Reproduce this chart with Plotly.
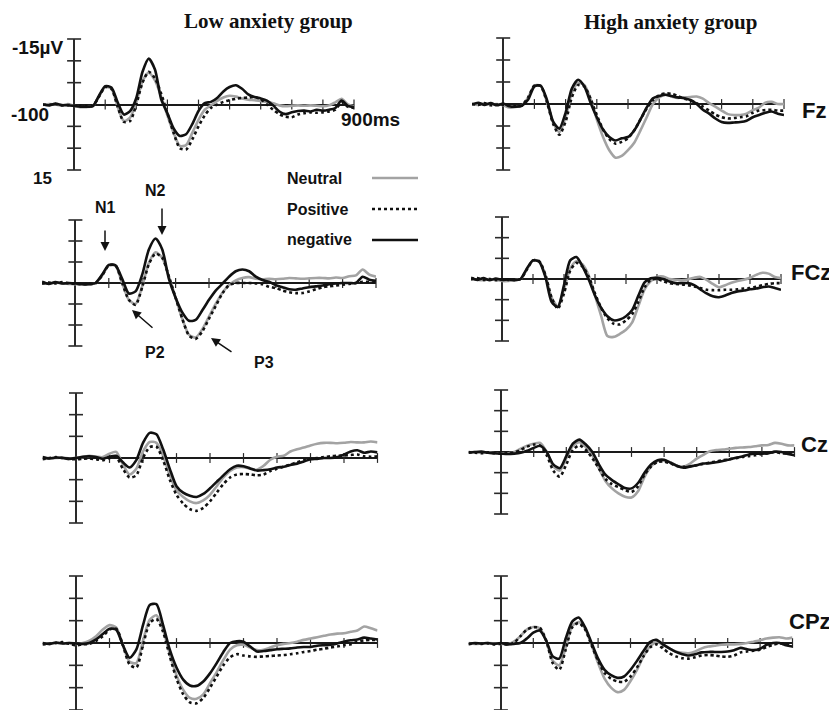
import plotly.graph_objects as go

# reference canvas and page offset (browser body margin)
REF_W, REF_H = 837, 710
OX, OY = 8, 8
W, H = REF_W - OX, REF_H - OY

# time axis (ms)
time_ms = list(range(-100, 901, 20))

# ---- Low anxiety group ----
low_fz_neutral = [0.1, -0.1, 0.0, 0.2, -0.1, 0.3, 0.6, 0.6, 0.4, -1.8, -4.0, -3.6, 0.5, 3.8, 3.0, -0.5, -5.3, -7.3, -5.5, -1.8, 2.5, 6.5, 9.5, 9.3, 6.5, 3.5, 1.2, 0.2, -0.8, -1.6, -2.0, -1.8, -1.4, -1.1, -1.0, -0.8, -0.6, -0.3, 0.2, 0.4, 0.3, 0.2, 0.3, 0.2, 0.3, 0.4, 0.2, -0.5, -1.3, 0.0, 0.4]
low_fz_positive = [0.0, 0.1, -0.1, 0.2, 0.1, 0.3, 0.3, 0.3, 0.3, -1.8, -4.0, -3.6, 0.5, 4.0, 3.8, 0.0, -5.0, -7.5, -6.0, -2.5, 2.0, 6.5, 10.0, 10.3, 8.0, 5.0, 2.5, 0.8, 0.0, -0.6, -1.0, -1.3, -1.5, -1.6, -1.7, -1.2, 0.0, 1.2, 2.2, 2.8, 2.9, 2.3, 2.0, 1.8, 1.9, 1.8, 1.6, 1.2, -0.5, 0.5, 0.8]
low_fz_negative = [0.0, 0.2, -0.2, 0.1, 0.2, 0.3, 0.5, 0.5, 0.4, -2.0, -4.2, -3.9, -0.5, 2.3, 1.5, -1.5, -7.5, -10.5, -8.0, -1.2, 2.0, 5.5, 7.2, 6.8, 4.5, 1.5, -0.3, -0.6, -1.5, -3.0, -4.0, -4.4, -3.6, -2.3, -1.7, -1.4, -0.9, 0.2, 1.6, 2.2, 1.8, 1.5, 1.4, 1.6, 1.2, 1.4, 1.2, 0.8, -0.9, 0.3, 0.6]

low_fcz_neutral = [0.0, 0.1, -0.1, 0.1, 0.2, 0.3, 0.3, 0.3, 0.1, -1.8, -4.2, -4.1, 0.0, 4.0, 5.0, 0.8, -4.8, -7.3, -6.0, -1.5, 3.5, 8.5, 12.3, 13.0, 11.0, 8.0, 5.0, 2.3, 0.5, -0.6, -1.2, -1.4, -1.0, -0.9, -1.0, -0.9, -1.0, -1.2, -1.1, -1.0, -1.1, -1.2, -1.2, -1.1, -1.3, -1.2, -1.6, -1.8, -3.2, -2.0, -1.5]
low_fcz_positive = [0.2, -0.1, 0.1, -0.2, 0.1, 0.2, 0.3, 0.2, 0.1, -1.8, -4.2, -4.2, 0.0, 4.0, 5.2, 1.0, -4.5, -7.0, -6.0, -1.5, 3.5, 8.5, 12.5, 13.3, 11.5, 8.5, 5.5, 2.5, 0.5, 0.0, 0.0, 0.0, 0.1, 0.3, 0.9, 1.2, 1.8, 2.2, 2.4, 2.4, 2.0, 1.5, 1.0, 0.8, 0.6, 0.4, 0.2, 0.0, -0.3, -0.2, 0.0]
low_fcz_negative = [-0.3, 0.2, -0.2, 0.1, 0.0, 0.1, 0.3, 0.3, 0.0, -2.0, -4.3, -4.2, -1.0, 2.5, 2.0, -2.0, -8.0, -10.6, -8.0, -1.0, 3.5, 7.0, 9.0, 8.8, 6.5, 4.0, 1.8, 0.2, -1.5, -2.8, -3.2, -2.8, -1.5, -0.7, -0.3, 0.5, 1.0, 1.5, 1.6, 1.3, 1.0, 0.8, 0.6, 0.3, 0.1, 0.0, 0.0, 0.0, -1.5, -0.8, -0.5]

low_cz_neutral = [0.0, 0.1, 0.0, -0.1, 0.1, 0.0, -0.2, -0.5, -0.3, -0.2, -1.0, -1.4, 1.5, 3.8, 2.5, -1.5, -3.7, -3.5, -0.5, 4.0, 7.5, 9.0, 10.0, 10.4, 9.8, 8.5, 6.5, 4.5, 3.0, 2.2, 2.1, 2.5, 2.7, 1.8, 0.4, -0.3, -0.5, -1.5, -2.0, -2.4, -2.9, -3.3, -3.5, -3.5, -3.4, -3.5, -3.7, -3.6, -3.6, -3.8, -3.6]
low_cz_positive = [0.3, 0.0, -0.2, 0.0, 0.2, 0.3, 0.2, 0.1, 0.3, 0.5, 0.0, -0.2, 2.5, 4.5, 4.0, 0.0, -2.5, -2.6, 0.5, 5.0, 8.5, 10.5, 11.8, 12.2, 11.5, 10.0, 8.0, 6.0, 4.5, 3.8, 3.7, 3.8, 4.0, 3.8, 3.0, 2.5, 2.0, 1.5, 1.0, 0.5, 0.2, 0.0, -0.2, -0.4, -0.5, -0.6, -0.7, -0.8, -0.4, -0.3, -0.4]
low_cz_negative = [-0.2, 0.1, -0.1, 0.0, 0.2, 0.0, -0.3, -0.4, -0.2, 0.2, -0.3, -0.5, 1.0, 2.2, 0.5, -3.5, -5.8, -5.5, -2.0, 2.5, 6.5, 8.0, 8.7, 9.0, 8.3, 7.0, 5.5, 4.0, 2.6, 1.8, 1.9, 2.4, 2.9, 2.8, 2.6, 2.2, 2.0, 1.6, 1.3, 0.8, 0.3, 0.2, 0.0, 0.0, -0.2, -0.8, -1.5, -1.8, -1.2, -1.5, -1.3]

low_cpz_neutral = [0.0, 0.1, 0.0, 0.1, 0.0, 0.2, 0.0, -0.5, -1.5, -3.0, -4.0, -3.5, 0.5, 4.2, 4.5, -0.5, -5.2, -6.2, -3.0, 2.5, 7.2, 10.5, 12.3, 12.5, 11.5, 9.0, 6.5, 3.8, 1.5, 0.5, 0.4, 1.0, 1.6, 1.5, 1.0, 0.5, 0.2, 0.0, -0.3, -0.7, -1.0, -1.3, -1.6, -1.9, -2.1, -2.2, -2.5, -2.8, -3.7, -3.3, -2.8]
low_cpz_positive = [0.3, 0.2, 0.0, -0.2, 0.2, 0.5, 0.3, 0.2, -0.5, -1.5, -3.0, -3.2, 0.5, 4.8, 5.5, 0.5, -4.5, -5.4, -2.5, 3.0, 8.0, 11.5, 13.3, 13.5, 12.3, 10.0, 7.5, 5.0, 3.2, 2.5, 2.8, 3.0, 3.1, 3.0, 2.9, 2.8, 2.7, 2.5, 2.3, 2.0, 1.8, 1.5, 1.3, 1.0, 0.8, 0.5, 0.3, -0.3, -0.6, -0.7, -0.7]
low_cpz_negative = [0.0, 0.2, -0.1, 0.1, 0.0, 0.1, 0.2, 0.0, -0.8, -2.0, -3.2, -3.0, 0.5, 3.3, 1.5, -4.0, -8.5, -8.7, -4.0, 1.5, 5.5, 8.2, 9.5, 9.6, 8.6, 6.8, 4.5, 2.0, 0.0, -0.4, -0.3, 0.8, 1.9, 1.8, 1.6, 1.4, 1.3, 1.2, 1.0, 0.9, 0.9, 0.6, 0.5, 0.4, 0.1, -0.3, -0.6, -0.8, -1.2, -1.0, -0.8]

# ---- High anxiety group ----
high_fz_neutral = [0.0, 0.2, -0.1, 0.1, 0.0, 0.3, 0.8, 0.7, 0.3, -1.5, -4.2, -4.1, -0.5, 4.2, 6.4, 3.0, -2.5, -4.8, -4.3, -1.2, 3.5, 7.5, 10.5, 12.2, 11.8, 10.5, 8.8, 6.0, 3.0, 0.0, -1.5, -2.1, -1.7, -1.4, -1.5, -1.6, -1.7, -1.2, -0.2, 0.6, 1.5, 2.3, 2.5, 2.5, 2.2, 1.4, 0.8, -0.3, -0.5, 0.0, 0.0]
high_fz_positive = [0.0, 0.2, -0.2, 0.3, 0.1, 0.2, 0.3, 0.5, 0.3, -1.5, -4.2, -4.1, -0.5, 4.5, 7.0, 4.0, -1.5, -4.3, -4.0, -1.2, 2.5, 5.8, 8.0, 9.0, 8.6, 7.8, 6.0, 3.5, 1.0, -0.9, -2.0, -2.4, -2.3, -1.8, -1.2, -0.8, -0.2, 0.6, 1.5, 2.4, 3.0, 3.3, 3.2, 3.0, 2.8, 2.0, 1.5, 1.4, 1.3, 1.5, 1.5]
high_fz_negative = [0.1, -0.3, 0.2, -0.2, 0.3, -0.1, 0.5, 0.6, 0.4, -1.0, -4.0, -4.2, -1.0, 4.0, 5.6, 2.0, -3.5, -5.5, -4.0, -0.3, 3.0, 5.8, 7.5, 8.3, 7.8, 7.5, 6.0, 3.5, 0.8, -1.3, -1.8, -2.1, -1.8, -1.5, -1.3, -0.9, 0.0, 1.3, 2.2, 3.3, 4.1, 4.3, 4.2, 4.1, 3.8, 3.0, 2.5, 2.0, 1.7, 2.2, 2.5]

high_fcz_neutral = [0.0, 0.2, 0.3, 0.0, 0.2, 0.5, 0.5, 0.3, 0.0, -2.3, -4.5, -4.3, -1.0, 4.5, 6.6, 2.5, -2.5, -4.3, -3.5, -0.8, 4.0, 9.0, 13.8, 14.0, 13.3, 12.3, 10.5, 6.5, 2.5, 0.5, -0.5, -0.6, 0.0, 0.2, 0.3, 0.1, -0.3, -0.5, 0.2, 1.2, 2.0, 1.5, 0.9, 0.5, 0.2, -0.3, -1.0, -1.5, -1.3, -0.5, -0.2]
high_fcz_positive = [0.1, -0.2, 0.2, 0.0, 0.3, 0.1, 0.2, 0.2, 0.0, -2.3, -4.5, -4.3, -1.0, 4.5, 7.2, 3.5, -2.0, -3.9, -3.0, -0.5, 3.5, 7.0, 9.5, 10.8, 11.0, 10.0, 8.5, 5.5, 2.0, 0.2, 0.0, 0.5, 1.0, 1.2, 1.3, 1.5, 1.8, 2.2, 2.6, 2.7, 2.7, 2.6, 2.6, 2.5, 2.3, 2.2, 1.9, 1.5, 1.2, 1.0, 1.0]
high_fcz_negative = [-0.3, 0.2, -0.2, 0.3, -0.1, 0.2, 0.1, 0.3, 0.0, -2.5, -4.5, -4.2, -0.5, 5.5, 6.8, 1.5, -4.5, -5.3, -3.0, 0.2, 4.0, 7.0, 9.0, 10.0, 9.8, 9.0, 7.5, 4.0, 0.8, -0.2, -0.3, 0.0, 0.6, 1.0, 1.0, 1.0, 1.5, 2.5, 3.5, 4.2, 4.4, 4.0, 3.4, 3.0, 2.8, 2.5, 2.3, 2.0, 1.8, 2.2, 2.6]

high_cz_neutral = [0.1, 0.0, 0.2, 0.1, 0.3, 0.3, 0.3, 0.0, -0.8, -1.5, -2.0, -2.2, 0.0, 3.5, 4.5, 1.5, -1.5, -2.4, -1.2, 0.8, 4.0, 7.0, 8.8, 10.0, 10.8, 11.0, 9.5, 6.0, 3.5, 2.2, 2.0, 2.5, 3.3, 3.5, 2.8, 1.6, 0.7, -0.2, -0.5, -0.6, -0.8, -1.0, -1.1, -1.2, -1.4, -1.6, -1.7, -2.2, -2.0, -1.6, -1.6]
high_cz_positive = [0.0, 0.2, 0.3, 0.1, 0.3, 0.4, 0.3, 0.1, -0.5, -1.3, -1.8, -1.5, 0.8, 4.5, 6.0, 3.0, -0.5, -1.6, -0.5, 1.5, 4.0, 6.5, 7.8, 8.5, 9.2, 9.7, 8.3, 5.5, 3.5, 2.4, 2.3, 2.8, 3.4, 3.6, 3.5, 3.2, 2.9, 2.6, 2.3, 2.0, 1.8, 1.5, 1.2, 1.0, 0.8, 0.5, 0.3, 0.0, 0.3, 0.4, 0.4]
high_cz_negative = [0.2, 0.0, -0.1, 0.2, 0.3, 0.4, 0.5, 0.4, 0.2, -0.3, -1.0, -1.5, 0.0, 3.0, 3.9, 1.0, -2.0, -3.0, -1.8, 0.0, 3.0, 5.5, 6.8, 7.8, 8.7, 8.8, 7.5, 5.0, 3.0, 2.0, 1.9, 2.6, 3.4, 3.8, 3.5, 3.2, 2.8, 2.7, 2.5, 2.2, 1.8, 1.4, 1.1, 0.6, 0.4, 0.4, 0.3, -0.1, 0.0, 0.5, 0.8]

high_cpz_neutral = [0.0, 0.2, 0.1, 0.0, 0.1, 0.2, 0.3, -0.3, -1.5, -3.0, -3.6, -3.3, -0.5, 4.0, 5.0, 1.0, -3.8, -4.7, -3.2, 0.5, 4.5, 8.0, 10.0, 11.0, 10.5, 8.5, 6.0, 3.0, 0.8, -0.2, 0.3, 1.2, 1.9, 2.2, 2.3, 1.9, 1.2, 0.8, 0.6, 0.4, 0.3, 0.3, 0.2, 0.0, -0.3, -0.6, -1.0, -1.2, -1.3, -1.0, -1.2]
high_cpz_positive = [0.3, 0.1, 0.2, 0.1, 0.3, 0.2, 0.3, 0.0, -1.5, -3.0, -3.5, -3.4, -0.5, 4.5, 6.0, 1.5, -3.5, -4.5, -3.0, 0.5, 4.0, 6.7, 8.0, 8.6, 8.7, 7.5, 5.5, 3.0, 1.0, 0.3, 1.2, 2.3, 3.0, 3.4, 3.5, 3.2, 2.8, 2.7, 2.8, 3.0, 3.1, 2.8, 2.1, 1.9, 1.7, 1.5, 0.9, 0.4, 0.1, 0.3, 0.5]
high_cpz_negative = [0.2, 0.0, 0.1, 0.0, 0.2, 0.0, 0.3, 0.2, 0.0, -1.0, -2.3, -2.8, -0.5, 3.0, 3.5, -1.0, -4.8, -5.7, -3.5, 0.0, 3.5, 6.0, 7.2, 7.8, 7.5, 6.0, 4.0, 1.8, -0.2, -0.7, 0.3, 1.2, 2.0, 2.5, 2.8, 2.5, 2.1, 2.0, 2.0, 2.0, 1.9, 1.6, 1.1, 1.4, 1.6, 1.3, 0.4, 0.0, 0.0, 0.5, 0.8]

y_ticks = [-15, -10, -5, 5, 10, 15]
x_ticks = [100, 200, 300, 400, 500, 600, 700, 800, 900]
conditions = ["Neutral", "Positive", "negative"]
electrodes = ["Fz", "FCz", "Cz", "CPz"]

# panel pixel boxes in reference coordinates: (left, right, top, bottom)
panels = [
    ((43, 354, 39, 170), (low_fz_neutral, low_fz_positive, low_fz_negative)),
    ((42, 376, 220, 346), (low_fcz_neutral, low_fcz_positive, low_fcz_negative)),
    ((42.5, 377.5, 393, 523), (low_cz_neutral, low_cz_positive, low_cz_negative)),
    ((42.5, 377.5, 576, 710), (low_cpz_neutral, low_cpz_positive, low_cpz_negative)),
    ((472, 784, 38, 170), (high_fz_neutral, high_fz_positive, high_fz_negative)),
    ((471, 781, 217, 341), (high_fcz_neutral, high_fcz_positive, high_fcz_negative)),
    ((468.5, 794.5, 390, 514), (high_cz_neutral, high_cz_positive, high_cz_negative)),
    ((468.5, 792.5, 576, 710), (high_cpz_neutral, high_cpz_positive, high_cpz_negative)),
]

styles = [
    dict(color="#a3a3a3", width=2.6, dash="solid"),
    dict(color="#111111", width=2.6, dash="dot"),
    dict(color="#111111", width=2.6, dash="solid"),
]


def px(x, y):
    return (x - OX) / W, 1 - (y - OY) / H


fig = go.Figure()
layout = {}
for i, (box, series) in enumerate(panels, start=1):
    l, r, t, b = box
    x0, y_top = px(l, t)
    x1, y_bot = px(r, b)
    xa = "xaxis" if i == 1 else f"xaxis{i}"
    ya = "yaxis" if i == 1 else f"yaxis{i}"
    xr = "x" if i == 1 else f"x{i}"
    yr = "y" if i == 1 else f"y{i}"
    layout[xa] = dict(domain=[x0, min(1, x1)], range=[-100, 900], anchor=yr,
                      showgrid=False, showticklabels=False, ticks="", showline=False,
                      zeroline=True, zerolinecolor="#2a2a2a", zerolinewidth=2)
    layout[ya] = dict(domain=[max(0, y_bot), min(1, y_top)], range=[15, -15], anchor=xr,
                      showgrid=False, showticklabels=False, ticks="", showline=False,
                      zeroline=True, zerolinecolor="#1a1a1a", zerolinewidth=1.6)
    fig.add_trace(go.Scatter(x=[0] * len(y_ticks), y=y_ticks, mode="markers", xaxis=xr, yaxis=yr,
                             marker=dict(symbol="line-ew", size=10, line=dict(width=1.6, color="#2a2a2a")),
                             hoverinfo="skip", cliponaxis=False))
    fig.add_trace(go.Scatter(x=x_ticks, y=[0] * len(x_ticks), mode="markers", xaxis=xr, yaxis=yr,
                             marker=dict(symbol="line-ns", size=7, line=dict(width=1.2, color="#2a2a2a")),
                             hoverinfo="skip", cliponaxis=False))
    for name, vals, st in zip(conditions, series, styles):
        fig.add_trace(go.Scatter(x=time_ms, y=vals, mode="lines", name=name, xaxis=xr, yaxis=yr,
                                 line=dict(color=st["color"], width=st["width"], dash=st["dash"],
                                           shape="spline", smoothing=0.7)))

annotations = []


def text(s, x, y, size, family="Liberation Sans, Arial, sans-serif", anchor="center"):
    xx, yy = px(x, y)
    annotations.append(dict(x=xx, y=yy, xref="paper", yref="paper", text=f"<b>{s}</b>",
                            showarrow=False, xanchor=anchor, yanchor="middle",
                            font=dict(size=size, family=family, color="#111111")))


def arrow(hx, hy, tx, ty):
    xx, yy = px(hx, hy)
    annotations.append(dict(x=xx, y=yy, xref="paper", yref="paper", text="", showarrow=True,
                            ax=tx - hx, ay=ty - hy, arrowhead=2, arrowsize=1.2, arrowwidth=1.5,
                            arrowcolor="#111111", standoff=0, startstandoff=0))


serif = "Liberation Serif, Times New Roman, serif"
text("Low anxiety group", 268, 21, 21, family=serif)
text("High anxiety group", 670, 22, 21, family=serif)
text("-15µV", 37, 48, 19)
text("-100", 30, 115, 19)
text("900ms", 370, 119, 19)
text("15", 42, 178, 17)
text(electrodes[0], 814, 110, 22)
text(electrodes[1], 811, 272, 22)
text(electrodes[2], 814, 444, 22)
text(electrodes[3], 810, 621, 22)

# legend (text + sample line)
leg_y = [178, 209, 240]
for name, yy in zip(conditions, leg_y):
    text(name, 285, yy, 16, anchor="left")

shapes = []
for st, yy in zip(styles, leg_y):
    x0, y0 = px(372, yy)
    x1, _ = px(418, yy)
    shapes.append(dict(type="line", xref="paper", yref="paper", x0=x0, x1=x1, y0=y0, y1=y0,
                       line=dict(color=st["color"], width=2.6, dash=st["dash"])))

# component labels
text("N1", 105, 207, 16)
text("N2", 155, 190, 16)
text("P2", 155, 352, 16)
text("P3", 264, 362, 16)
arrow(105, 251, 105, 229)
arrow(162, 235, 162, 207)
arrow(132, 310, 154, 329)
arrow(211, 338, 233, 353)

fig.update_layout(width=W, height=H, margin=dict(l=0, r=0, t=0, b=0),
                  plot_bgcolor="white", paper_bgcolor="white", showlegend=False,
                  annotations=annotations, shapes=shapes, **layout)

fig.write_html("out.html")
